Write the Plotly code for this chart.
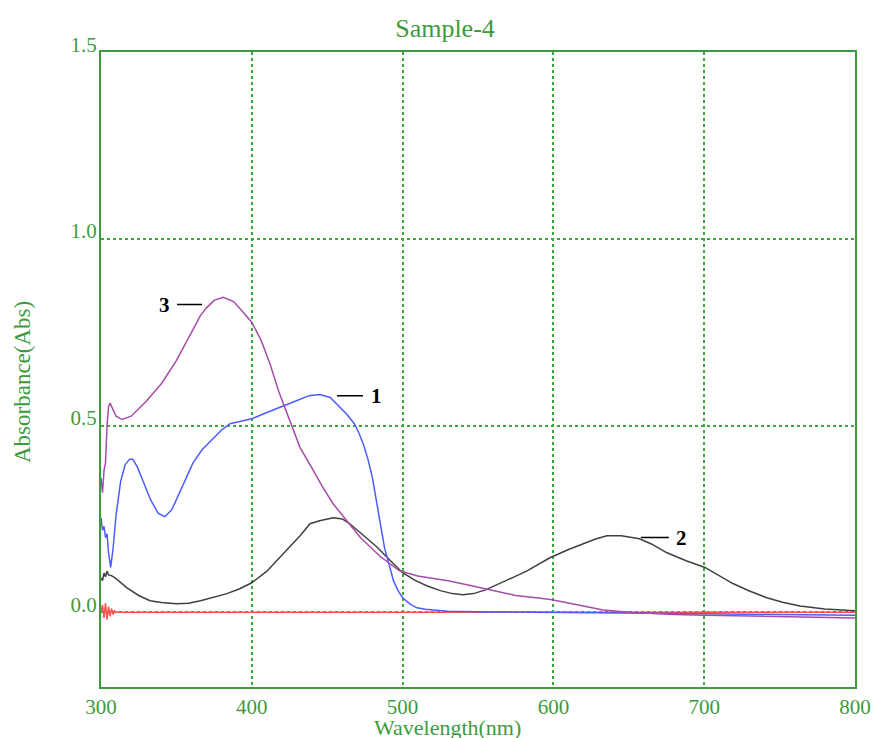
import plotly.graph_objects as go

# ---- data ----
wl_1 = [300, 301, 302, 303, 304, 305, 306.4, 308, 310, 313, 316, 319, 321, 324, 328, 333, 338,
        342.4, 347, 352, 357, 361, 367, 374, 380, 385.5, 392, 400, 410, 420, 430, 438, 445, 452,
        458.5, 463, 468, 471, 474, 477, 480, 482, 484, 486, 488, 491, 494, 497, 500, 505, 509.5,
        515, 520, 530, 560, 600, 620, 650, 700, 750, 800]
abs_1 = [0.253, 0.22, 0.23, 0.20, 0.21, 0.16, 0.12, 0.17, 0.26, 0.35, 0.395, 0.41, 0.41, 0.39,
         0.35, 0.30, 0.265, 0.256, 0.275, 0.32, 0.365, 0.40, 0.435, 0.465, 0.488, 0.505, 0.51,
         0.518, 0.535, 0.55, 0.567, 0.58, 0.583, 0.575, 0.548, 0.53, 0.505, 0.48, 0.45, 0.41,
         0.36, 0.31, 0.264, 0.22, 0.173, 0.125, 0.084, 0.058, 0.039, 0.022, 0.012, 0.008, 0.006,
         0.003, 0.001, 0.0, -0.001, -0.002, -0.004, -0.006, -0.008]

wl_2 = [300, 301, 302, 303, 304, 305, 307, 310, 317, 325, 332.5, 340, 350, 358, 366, 375, 383.5,
        392, 400, 410, 423, 432, 438.6, 445, 454, 460, 465, 470, 476, 483, 490, 500, 508, 516,
        525, 533, 540, 547, 555, 564.6, 573, 582.5, 590, 597.7, 610, 620, 628, 635.5, 645, 657,
        665, 675, 688, 700.5, 710, 719, 730, 741.5, 752, 763.5, 780, 800]
abs_2 = [0.092, 0.085, 0.105, 0.095, 0.11, 0.10, 0.098, 0.09, 0.066, 0.045, 0.031, 0.026, 0.023,
         0.024, 0.031, 0.04, 0.05, 0.063, 0.079, 0.11, 0.165, 0.205, 0.237, 0.245, 0.253, 0.25,
         0.237, 0.22, 0.20, 0.175, 0.146, 0.106, 0.086, 0.071, 0.058, 0.05, 0.047, 0.05, 0.06,
         0.077, 0.093, 0.111, 0.128, 0.146, 0.168, 0.183, 0.196, 0.205, 0.205, 0.197, 0.183,
         0.16, 0.138, 0.12, 0.097, 0.077, 0.057, 0.039, 0.027, 0.017, 0.009, 0.004]

wl_3 = [300, 301, 302, 303, 304, 305, 306, 308, 310, 314, 320, 330, 340, 350, 360, 366, 370, 375,
        381, 388, 395, 400, 406, 412, 418, 425, 432, 440, 447, 454, 462, 472, 485, 498, 510, 520,
        531, 545, 560, 575, 590, 598, 610, 620, 633, 650, 665, 680, 700, 730, 760, 800]
abs_3 = [0.36, 0.32, 0.38, 0.40, 0.50, 0.55, 0.56, 0.54, 0.525, 0.516, 0.525, 0.565, 0.612,
         0.674, 0.75, 0.795, 0.815, 0.835, 0.843, 0.832, 0.80, 0.776, 0.73, 0.666, 0.59, 0.513,
         0.441, 0.385, 0.335, 0.29, 0.25, 0.20, 0.15, 0.111, 0.097, 0.09, 0.084, 0.072, 0.058,
         0.045, 0.038, 0.034, 0.025, 0.016, 0.006, 0.0, -0.003, -0.006, -0.008, -0.01, -0.013,
         -0.015]

wl_base = [300, 301, 302, 303, 304, 305, 306, 307, 308, 309, 310, 312, 800]
abs_base = [0.0, 0.02, -0.015, 0.025, -0.02, 0.015, -0.01, 0.01, -0.006, 0.004, 0.0, 0.0, 0.0]

x_ticks = [300, 400, 500, 600, 700, 800]
y_ticks = [0.0, 0.5, 1.0, 1.5]
y_ticklabels = ["0.0", "0.5", "1.0", "1.5"]

GREEN = "#3c9b3c"
SERIF = "Liberation Serif"

fig = go.Figure()
fig.add_trace(go.Scatter(x=wl_base, y=abs_base, mode="lines",
                         line=dict(color="#ff5050", width=1.5), showlegend=False))
fig.add_trace(go.Scatter(x=wl_2, y=abs_2, mode="lines",
                         line=dict(color="#404040", width=1.5), showlegend=False))
fig.add_trace(go.Scatter(x=wl_1, y=abs_1, mode="lines",
                         line=dict(color="#4d5cff", width=1.5), showlegend=False))
fig.add_trace(go.Scatter(x=wl_3, y=abs_3, mode="lines",
                         line=dict(color="#a64ca8", width=1.5), showlegend=False))

label_font = dict(family=SERIF, size=21, color="black")
fig.add_annotation(x=367, y=0.824, ax=-38, ay=0, text="<b>3</b>", font=label_font,
                   showarrow=True, arrowhead=0, arrowwidth=1.5, arrowcolor="black",
                   standoff=0, startstandoff=6)
fig.add_annotation(x=456.5, y=0.58, ax=39, ay=0, text="<b>1</b>", font=label_font,
                   showarrow=True, arrowhead=0, arrowwidth=1.5, arrowcolor="black",
                   standoff=0, startstandoff=6)
fig.add_annotation(x=658, y=0.20, ax=41, ay=0, text="<b>2</b>", font=label_font,
                   showarrow=True, arrowhead=0, arrowwidth=1.5, arrowcolor="black",
                   standoff=0, startstandoff=6)

# axis titles
fig.add_annotation(xref="paper", yref="paper", x=(447 - 101) / 754, y=-0.041,
                   yanchor="top", xanchor="center", showarrow=False,
                   text="Wavelength(nm)", font=dict(family=SERIF, size=22, color=GREEN))
fig.add_annotation(xref="paper", yref="paper", x=-0.105, y=0.48,
                   xanchor="center", yanchor="middle", showarrow=False, textangle=-90,
                   text="Absorbance(Abs)", font=dict(family=SERIF, size=23, color=GREEN))

fig.update_layout(
    width=874, height=738,
    margin=dict(l=101, r=19, t=52, b=51),
    paper_bgcolor="white", plot_bgcolor="white",
    title=dict(text="Sample-4", x=445 / 874, xref="container", xanchor="center",
               y=1 - 28 / 738, yref="container", yanchor="middle",
               font=dict(family=SERIF, size=26, color=GREEN)),
    xaxis=dict(range=[300, 800], tickvals=x_ticks, ticks="", showline=True, mirror=True,
               linecolor=GREEN, linewidth=2, showgrid=True, gridcolor="#3aa83a",
               gridwidth=1.5, griddash="3px,3px", zeroline=False, automargin=False,
               tickfont=dict(family=SERIF, size=21, color=GREEN)),
    yaxis=dict(range=[-0.2, 1.5], tickvals=y_ticks, ticktext=y_ticklabels, ticks="",
               showline=True, mirror=True, linecolor=GREEN, linewidth=2, showgrid=True,
               gridcolor="#3aa83a", gridwidth=1.5, griddash="3px,3px", zeroline=False,
               automargin=False,
               ticklabelposition="outside top", ticklabelstandoff=-2, ticklabelshift=7,
               tickfont=dict(family=SERIF, size=21, color=GREEN)),
)

fig.write_html("out.html", config={"displayModeBar": False},
               post_script="document.body.style.margin='0';document.body.style.overflow='hidden';")
